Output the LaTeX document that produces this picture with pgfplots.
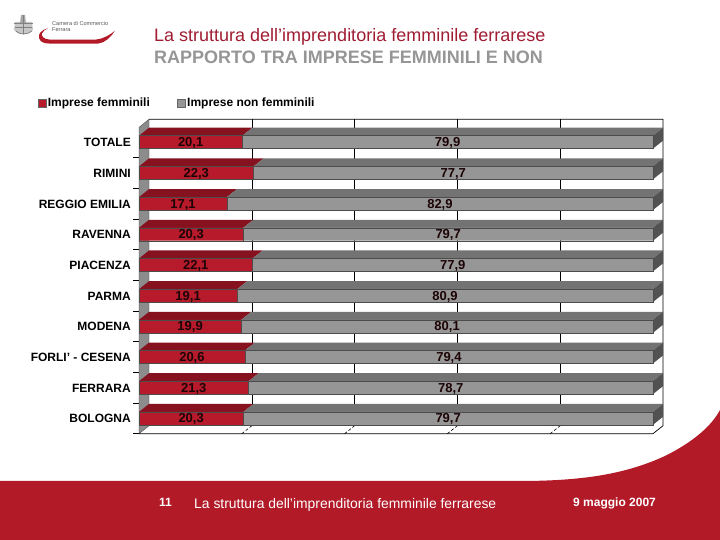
\documentclass[border=0pt]{standalone}
\usepackage{fontspec}
\setmainfont{Liberation Sans}
\usepackage{pgfplots}
\pgfplotsset{compat=1.18}
\usepackage{pgfplotstable}
\definecolor{fred}{HTML}{B71A2B}
\definecolor{tred}{HTML}{86121F}
\definecolor{fgrey}{HTML}{969696}
\definecolor{tgrey}{HTML}{737373}
\definecolor{sgrey}{HTML}{525252}
\definecolor{wgrey}{HTML}{8C8C8C}
\definecolor{foot}{HTML}{B21A28}
\definecolor{titlered}{HTML}{A01C32}
\pgfplotstableread{
row fem non
0 20.3 79.7
1 21.3 78.7
2 20.6 79.4
3 19.9 80.1
4 19.1 80.9
5 22.1 77.9
6 20.3 79.7
7 17.1 82.9
8 22.3 77.7
9 20.1 79.9
}\shares
\pgfplotstableread{
x y label
10.15 0.03 20,3
60.15 0.03 79,7
10.65 1.03 21,3
60.65 1.03 78,7
10.3 2.03 20,6
60.3 2.03 79,4
9.95 3.03 19,9
59.95 3.03 80,1
9.55 4.03 19,1
59.55 4.03 80,9
11.05 5.03 22,1
61.05 5.03 77,9
10.15 6.03 20,3
60.15 6.03 79,7
8.55 7.03 17,1
58.55 7.03 82,9
11.15 8.03 22,3
61.15 8.03 77,7
10.05 9.03 20,1
60.05 9.03 79,9
}\labelsT
\pgfplotsset{
 base/.style={
  scale only axis, width=524pt, height=314.4pt,
  xmin=0, xmax=101.95, ymin=-0.5, ymax=9.745,
  clip=false, at={(139pt,106.3pt)}, anchor=south west,
 },
}
\newcommand\faces[2]{% row, value
 \pgfmathsetmacro\ya{#1+0.21}%
 \pgfmathsetmacro\yb{#1+0.47}%
 \pgfmathsetmacro\yc{#1-0.21}%
 \pgfmathsetmacro\yd{#1+0.05}%
 \pgfmathsetmacro\vb{#2+1.95}%
 \edef\tmp{\noexpand\addplot[fill=tred,draw=none] coordinates {(0,\ya)(#2,\ya)(\vb,\yb)(1.95,\yb)} -- cycle;
 \noexpand\addplot[fill=tgrey,draw=none] coordinates {(#2,\ya)(100,\ya)(101.95,\yb)(\vb,\yb)} -- cycle;
 \noexpand\addplot[fill=sgrey,draw=none] coordinates {(100,\yc)(100,\ya)(101.95,\yb)(101.95,\yd)} -- cycle;}%
 \tmp
}
\begin{document}
\begin{tikzpicture}[x=1pt,y=1pt]
\path[use as bounding box] (0,0) rectangle (720,540);
\fill[white] (0,0) rectangle (720,540);
\begin{scope}[y=-1pt,yshift=540pt]
 % footer band
 \fill[foot] (0,540) -- (0,481) -- (520,481) .. controls (590,481) and (630,472) .. (665,456)
   .. controls (695,441) and (712,425) .. (720,410) -- (720,540) -- cycle;
 % logo
 \fill[foot] (48,28.3) .. controls (41,30) and (38,34) .. (39,38) .. controls (40,42) and (44,43.6) .. (50,43.6)
   -- (98,43.6) .. controls (105,43) and (111,37) .. (115,30.7) .. controls (110,35) and (103,39) .. (96,39.6)
   -- (50,39.6) .. controls (44,39.6) and (41,36) .. (42,33.5) .. controls (43,31) and (45,29.5) .. (48,28.3) -- cycle;
 \fill[black!22] (15,22) -- (32,22) -- (33,30) .. controls (28,36) and (19,36) .. (14,30) -- cycle;
 \fill[black!35] (21,15) -- (25,15) -- (26,24) -- (20,24) -- cycle;
 \begin{scope}[draw=black!50,line width=0.7pt]
  \draw (23,15.5) -- (23,34);
  \draw (14,23) -- (33,23);
  \draw (15,27) -- (32,27);
  \draw (16,31) .. controls (20,35) and (27,35) .. (32,31);
 \end{scope}
 \node[anchor=west,inner sep=0,font=\fontsize{5.6}{7}\selectfont,text=black!65] at (52,23.5) {Camera di Commercio};
 \node[anchor=west,inner sep=0,font=\fontsize{5.6}{7}\selectfont,text=black!65] at (52,30) {Ferrara};
 % titles
 \node[anchor=west,inner sep=0,font=\fontsize{18}{20}\selectfont,text=titlered] at (154,37) {La struttura dell’imprenditoria femminile ferrarese};
 \node[anchor=west,inner sep=0,font=\bfseries\fontsize{18}{20}\selectfont,text=fgrey] at (154,57.5) {RAPPORTO TRA IMPRESE FEMMINILI E NON};
 % footer text
 \node[anchor=west,inner sep=0,font=\bfseries\fontsize{12}{14}\selectfont,text=white] at (159,502.5) {11};
 \node[anchor=west,inner sep=0,font=\fontsize{13.9}{15}\selectfont,text=white] at (194,504.5) {La struttura dell’imprenditoria femminile ferrarese};
 \node[anchor=west,inner sep=0,font=\bfseries\fontsize{12}{14}\selectfont,text=white] at (573,503.5) {9 maggio 2007};
\end{scope}
% walls, gridlines, side and top faces
\begin{axis}[base,
  axis line style={draw=none}, xtick=\empty,
  ytick={0,...,9},
  yticklabels={BOLOGNA,FERRARA,{FORLI' - CESENA},MODENA,PARMA,PIACENZA,RAVENNA,{REGGIO EMILIA},RIMINI,TOTALE},
  ytick pos=left, major tick length=0pt,
  minor ytick={-0.5,0.5,1.5,2.5,3.5,4.5,5.5,6.5,7.5,8.5},
  minor tick length=6pt, tick align=outside,
  minor tick style={black,line width=0.7pt},
  yticklabel style={font=\bfseries\fontsize{12}{14}\selectfont, inner sep=0pt, xshift=-8pt, yshift=-0.5pt, anchor=east},
]
 \addplot[fill=wgrey,draw=black!70,line width=0.4pt] coordinates {(0,-0.5)(0,9.48)(1.95,9.745)(1.95,-0.24)} -- cycle;
 \addplot[black,line width=0.7pt] coordinates {(1.95,9.745)(101.95,9.745)(101.95,-0.24)(100,-0.5)(0,-0.5)};
 \addplot[black,line width=0.6pt] coordinates {(21.95,9.745)(21.95,-0.24)};
 \addplot[black,line width=0.6pt] coordinates {(41.95,9.745)(41.95,-0.24)};
 \addplot[black,line width=0.6pt] coordinates {(61.95,9.745)(61.95,-0.24)};
 \addplot[black,line width=0.6pt] coordinates {(81.95,9.745)(81.95,-0.24)};
 \addplot[black,line width=0.6pt,densely dashed] coordinates {(20,-0.5)(21.95,-0.24)};
 \addplot[black,line width=0.6pt,densely dashed] coordinates {(40,-0.5)(41.95,-0.24)};
 \addplot[black,line width=0.6pt,densely dashed] coordinates {(60,-0.5)(61.95,-0.24)};
 \addplot[black,line width=0.6pt,densely dashed] coordinates {(80,-0.5)(81.95,-0.24)};
 \faces{0}{20.3}\faces{1}{21.3}\faces{2}{20.6}\faces{3}{19.9}\faces{4}{19.1}
 \faces{5}{22.1}\faces{6}{20.3}\faces{7}{17.1}\faces{8}{22.3}\faces{9}{20.1}
\end{axis}
% front faces and legend
\begin{axis}[base, axis lines=none, xbar stacked, bar width=13pt, ytick=\empty, xtick=\empty,
  legend columns=2,
  legend style={at={(-0.194,1.052)},anchor=west,draw=none,fill=none,inner sep=0pt,
    font=\bfseries\fontsize{12}{14}\selectfont,
    /tikz/every even column/.append style={column sep=25pt}},
  legend cell align=left,
]
 \addplot[fill=fred,draw=black!70,line width=0.4pt,bar shift=0pt,
   legend image code/.code={\fill[fred,draw=black!60,line width=0.3pt] (0pt,-4pt) rectangle (8pt,4pt);}]
   table[x=fem,y=row]{\shares};
 \addplot[fill=fgrey,draw=black!70,line width=0.4pt,bar shift=0pt,
   legend image code/.code={\fill[fgrey,draw=black!60,line width=0.3pt] (0pt,-4pt) rectangle (8pt,4pt);}]
   table[x=non,y=row]{\shares};
 \legend{Imprese femminili,Imprese non femminili}
\end{axis}
% value labels
\begin{axis}[base, axis lines=none, ytick=\empty, xtick=\empty]
 \addplot[only marks,mark=none,
   point meta=explicit symbolic,
   nodes near coords,
   every node near coord/.append style={anchor=center,inner sep=0pt,yshift=-2pt,text=black!85!fred,
     font=\bfseries\fontsize{13}{14}\selectfont}]
   table[x=x,y=y,meta=label]{\labelsT};
\end{axis}
\end{tikzpicture}
\end{document}
